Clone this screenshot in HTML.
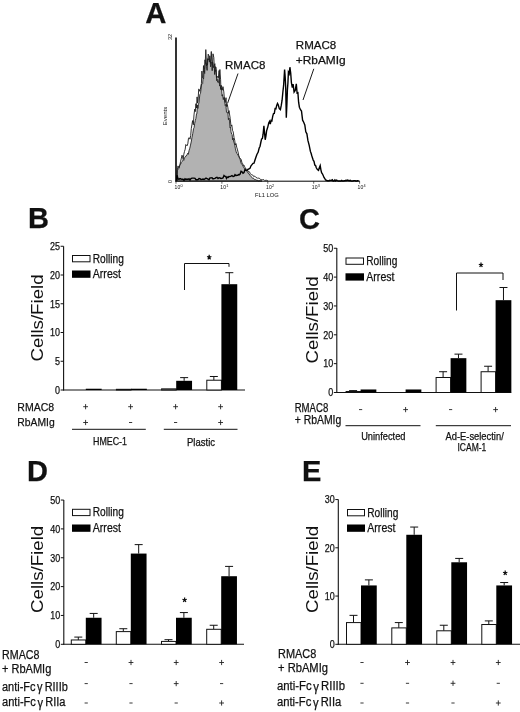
<!DOCTYPE html>
<html><head><meta charset="utf-8"><title>Figure</title>
<style>html,body{margin:0;padding:0;background:#fff;}svg{display:block;will-change:transform;}text{font-family:"Liberation Sans",sans-serif;fill:#111;stroke:#111;stroke-width:0.25px;}text.s{stroke:none;}</style>
</head><body>
<svg width="520" height="712" viewBox="0 0 520 712">
<rect x="0" y="0" width="520" height="712" fill="#fff"/>
<text x="145.3" y="22.7" font-size="29.3" text-anchor="start" font-weight="bold" >A</text>
<text x="28.1" y="228" font-size="29" text-anchor="start" font-weight="bold" >B</text>
<text x="298.9" y="229.3" font-size="29" text-anchor="start" font-weight="bold" >C</text>
<text x="27.1" y="481.1" font-size="29" text-anchor="start" font-weight="bold" >D</text>
<text x="302.1" y="481.1" font-size="29" text-anchor="start" font-weight="bold" >E</text>
<path d="M177.2,181.0 L177.4,170.1 L177.9,169.7 L178.4,169.3 L178.9,168.2 L179.5,165.6 L180.0,164.5 L180.7,164.0 L181.3,162.5 L181.9,161.8 L182.6,161.0 L183.2,159.6 L183.8,160.3 L184.4,158.0 L185.0,157.2 L185.7,156.1 L186.3,156.0 L187.0,154.8 L187.7,153.3 L188.3,154.3 L189.0,150.7 L189.8,148.2 L190.5,145.1 L191.2,142.0 L192.0,137.3 L192.8,133.3 L193.5,128.8 L194.1,127.7 L194.7,123.3 L195.3,120.6 L195.9,118.4 L196.5,113.8 L196.9,113.8 L197.4,105.0 L197.9,108.5 L198.5,104.3 L199.0,102.4 L199.8,94.7 L200.5,93.4 L201.0,89.2 L201.5,84.1 L202.1,84.3 L202.6,83.8 L203.1,77.9 L203.6,78.8 L204.1,71.2 L204.7,73.5 L205.2,63.4 L205.8,49.6 L206.6,65.7 L207.1,63.7 L207.5,64.9 L208.2,54.1 L208.9,56.2 L209.4,61.9 L209.8,55.8 L210.6,66.8 L211.4,62.5 L212.1,62.4 L212.9,62.3 L213.6,67.7 L214.4,65.0 L214.9,63.7 L215.3,71.5 L216.0,69.8 L216.7,80.7 L217.1,78.6 L217.6,82.2 L218.4,82.8 L219.2,77.7 L219.9,69.5 L220.6,79.8 L221.0,90.0 L221.5,88.1 L222.1,96.1 L222.6,94.6 L223.3,99.6 L224.0,97.3 L224.6,99.7 L225.2,105.6 L225.8,104.4 L226.5,112.3 L227.2,112.5 L227.9,112.7 L228.4,119.7 L229.0,118.0 L229.5,121.1 L230.0,127.7 L230.5,126.9 L231.0,131.8 L231.6,134.0 L232.1,134.4 L232.6,139.8 L233.2,138.0 L233.7,141.9 L234.2,142.9 L234.8,145.3 L235.3,148.2 L236.0,151.2 L236.7,153.4 L237.4,153.9 L238.1,155.3 L238.8,156.4 L239.5,158.0 L240.2,159.7 L240.9,162.8 L241.6,164.2 L242.3,164.6 L243.0,166.0 L243.7,167.6 L244.3,168.5 L245.0,169.1 L245.7,170.6 L246.3,170.7 L247.0,171.8 L247.7,171.9 L248.3,173.4 L249.0,173.6 L249.7,175.2 L250.3,175.5 L250.9,176.2 L251.6,177.1 L252.2,177.9 L252.9,178.5 L253.5,178.2 L254.2,179.3 L254.8,179.6 L255.5,179.5 L256.1,179.9 L256.7,180.2 L257.4,180.3 L258.0,180.6 L258.6,180.9 L259.1,180.6 L259.7,180.8 L260.3,180.7 L260.9,181.0 L261.4,180.8 L262.0,181.0 Z" fill="#b2b2b2" stroke="#222" stroke-width="0.9" stroke-linejoin="round"/>
<path d="M176.8,180.0 L177.2,170.5 L178.0,165.9 L178.6,167.5 L179.2,167.6 L179.8,165.5 L180.5,161.7 L181.2,158.9 L182.0,155.2 L182.6,157.0 L183.2,159.3 L183.8,154.3 L184.5,151.4 L185.2,149.2 L185.8,144.5 L186.4,145.1 L187.0,145.9 L187.8,143.9 L188.5,138.2 L189.2,137.6 L190.0,139.2 L190.7,135.5 L191.3,128.4 L191.9,124.8 L192.6,120.6 L193.3,124.8 L194.0,114.9 L194.7,109.2 L195.3,111.6 L195.9,103.7 L196.5,108.0 L197.1,96.9 L197.6,103.0 L198.1,100.0 L198.7,89.1 L199.2,89.4 L199.8,91.3 L200.3,89.3 L200.8,87.0 L201.4,83.5 L201.9,71.1 L202.4,77.7 L203.0,77.6 L203.5,65.6 L204.0,72.0 L204.5,69.4 L205.0,59.8 L205.6,63.8 L206.2,63.5 L206.6,66.6 L207.1,70.4 L207.6,58.7 L208.0,60.1 L208.8,58.6 L209.7,59.3 L210.5,63.4 L211.3,51.5 L212.2,70.7 L213.0,53.8 L213.8,57.5 L214.7,74.5 L215.1,69.5 L215.6,66.7 L216.1,67.5 L216.5,77.8 L217.3,76.3 L218.2,78.0 L218.6,76.0 L219.1,70.5 L219.6,85.9 L220.0,85.1 L220.8,88.9 L221.5,85.5 L222.2,90.2 L223.0,86.7 L223.8,91.9 L224.5,100.0 L225.2,102.5 L226.0,97.7 L226.6,106.6 L227.3,104.4 L227.9,107.8 L228.4,113.3 L229.0,110.6 L229.5,114.0 L230.2,118.3 L231.0,126.3 L231.8,124.9 L232.5,130.3 L233.2,131.9 L234.0,137.4 L234.7,140.2 L235.3,145.1 L236.0,143.6 L236.7,147.2 L237.3,149.1 L238.0,151.9 L238.7,155.2 L239.3,157.3 L240.0,158.3 L240.7,158.8 L241.3,160.0 L242.0,163.0 L242.7,163.6 L243.3,165.5 L244.0,165.1 L244.7,166.8 L245.3,168.1 L246.0,169.5 L246.6,168.8 L247.2,169.8 L247.8,170.8 L248.4,171.8 L249.0,171.3 L249.6,172.0 L250.2,173.7 L250.8,174.0 L251.4,174.7 L252.0,174.9 L252.6,175.1 L253.1,175.3 L253.7,176.5 L254.3,176.3 L254.9,176.3 L255.4,176.6 L256.0,177.5 L256.6,177.7 L257.1,177.6 L257.7,178.4 L258.3,178.1 L258.9,178.3 L259.4,178.3 L260.0,179.2 L260.6,179.4 L261.1,179.4 L261.7,179.6 L262.3,179.7 L262.9,179.7 L263.4,179.6 L264.0,179.8 L264.6,180.4 L265.1,180.1 L265.7,180.5 L266.3,180.2 L266.9,180.7 L267.4,180.6 L268.0,181.0" fill="none" stroke="#1a1a1a" stroke-width="0.9" stroke-linejoin="round"/>
<path d="M176.6,180.6 L177.0,175.2 L178.0,178.8 L179.0,179.3 L180.0,178.5 L181.0,179.0 L182.0,179.3 L183.0,179.2 L184.0,180.3 L185.0,178.8 L186.0,179.5 L187.0,179.1 L188.0,179.5 L189.0,178.8 L190.0,180.1 L191.0,178.5 L192.0,178.1 L193.0,178.1 L194.0,178.1 L195.0,178.3 L196.0,179.7 L197.0,179.7 L198.0,179.6 L199.0,178.5 L200.0,178.7 L201.0,179.5 L202.0,179.4 L203.0,179.1 L204.0,179.4 L205.0,179.0 L206.0,178.1 L207.0,178.6 L208.0,179.1 L209.0,179.7 L210.0,177.9 L211.0,177.9 L212.0,177.7 L213.0,179.0 L214.0,178.6 L215.0,178.4 L216.0,177.7 L217.0,177.4 L218.0,178.6 L219.0,177.7 L220.0,178.0 L221.0,178.4 L222.0,178.2 L223.0,177.9 L224.0,175.5 L225.0,176.4 L225.8,176.5 L226.5,178.4 L227.3,177.1 L228.2,177.5 L229.0,176.5 L230.0,176.6 L231.0,176.2 L232.0,175.6 L233.0,176.5 L234.0,176.3 L235.0,174.6 L236.0,175.7 L237.0,175.2 L237.8,175.3 L238.7,174.6 L239.5,174.8 L240.2,173.9 L241.0,171.3 L242.0,171.9 L243.0,173.3 L244.0,172.5 L245.0,169.6 L246.0,170.4 L247.0,170.4 L248.0,169.4 L249.0,168.8 L250.0,168.3 L251.0,165.8 L252.0,164.6 L253.0,163.4 L254.0,163.2 L255.0,160.0 L256.0,157.0 L257.0,154.2 L258.1,152.3 L259.2,148.0 L260.0,146.5 L260.8,142.5 L261.6,138.9 L262.4,138.6 L263.1,134.2 L263.9,125.9 L265.2,139.8 L265.9,136.1 L266.6,130.9 L267.7,127.3 L268.8,122.8 L269.6,121.4 L270.3,124.1 L271.1,120.4 L271.9,120.9 L272.7,116.3 L273.5,113.6 L274.3,113.4 L275.1,108.6 L275.9,108.8 L276.7,105.4 L277.5,103.5 L278.3,105.0 L279.3,108.6 L280.4,109.6 L281.3,105.2 L282.1,100.2 L282.9,91.7 L283.6,85.7 L284.6,69.5 L285.2,77.2 L285.7,87.2 L286.3,117.7 L286.9,104.2 L287.4,89.9 L287.9,83.3 L288.4,72.2 L289.2,73.8 L289.9,67.2 L290.7,73.1 L291.4,82.7 L292.3,87.7 L293.1,84.1 L294.1,92.2 L295.2,90.6 L296.3,83.9 L297.1,93.0 L297.9,92.7 L298.6,102.2 L299.4,107.2 L300.5,109.7 L301.5,111.1 L302.6,120.2 L303.7,122.2 L304.8,125.0 L305.8,131.8 L306.9,133.8 L307.9,140.4 L309.2,145.4 L310.4,151.4 L311.1,153.2 L311.8,155.8 L312.5,158.1 L313.2,160.1 L314.0,161.3 L314.8,165.1 L315.6,165.5 L316.3,167.8 L317.4,169.6 L318.5,170.3 L319.4,167.5 L320.2,165.6 L320.9,169.8 L321.6,172.7 L322.4,173.8 L323.2,175.5 L324.0,177.4 L324.8,178.5 L325.6,180.1 L326.4,180.1 L327.2,180.8 L328.0,180.7 L328.9,181.0 L329.7,180.2 L330.6,180.4 L331.4,180.4 L332.3,179.8 L333.1,181.0 L334.0,181.0 L334.9,179.9 L335.7,181.0 L336.6,180.1 L337.4,180.6 L338.3,181.0 L339.1,181.0 L340.0,181.0 L340.9,181.0 L341.7,180.4 L342.6,181.0 L343.4,181.0 L344.3,180.6 L345.1,180.7 L346.0,180.2 L346.9,180.4 L347.7,180.0 L348.6,180.5 L349.4,180.7 L350.3,180.4 L351.1,181.0 L352.0,181.0 L353.0,181.0 L353.9,180.6 L354.9,180.6 L355.8,181.0 L356.8,181.0 L357.7,180.7 L358.7,180.7" fill="none" stroke="#000" stroke-width="1.4" stroke-linejoin="miter"/>
<line x1="176" y1="37.5" x2="176" y2="181.7" stroke="#000" stroke-width="1.6"/>
<line x1="175.5" y1="181.2" x2="360" y2="181.2" stroke="#000" stroke-width="1.0"/>
<line x1="176.0" y1="181.2" x2="176.0" y2="183.7" stroke="#222" stroke-width="0.7"/>
<text x="174.6" y="189.3" font-size="5.8" text-anchor="start" font-weight="normal" textLength="5.6" lengthAdjust="spacingAndGlyphs" class="s">10</text>
<text x="180.4" y="187" font-size="3.8" text-anchor="start" font-weight="normal" class="s">0</text>
<line x1="221.9" y1="181.2" x2="221.9" y2="183.7" stroke="#222" stroke-width="0.7"/>
<text x="220.35" y="189.3" font-size="5.8" text-anchor="start" font-weight="normal" textLength="5.6" lengthAdjust="spacingAndGlyphs" class="s">10</text>
<text x="226.15" y="187" font-size="3.8" text-anchor="start" font-weight="normal" class="s">1</text>
<line x1="267.8" y1="181.2" x2="267.8" y2="183.7" stroke="#222" stroke-width="0.7"/>
<text x="266.1" y="189.3" font-size="5.8" text-anchor="start" font-weight="normal" textLength="5.6" lengthAdjust="spacingAndGlyphs" class="s">10</text>
<text x="271.90000000000003" y="187" font-size="3.8" text-anchor="start" font-weight="normal" class="s">2</text>
<line x1="313.7" y1="181.2" x2="313.7" y2="183.7" stroke="#222" stroke-width="0.7"/>
<text x="311.85" y="189.3" font-size="5.8" text-anchor="start" font-weight="normal" textLength="5.6" lengthAdjust="spacingAndGlyphs" class="s">10</text>
<text x="317.65000000000003" y="187" font-size="3.8" text-anchor="start" font-weight="normal" class="s">3</text>
<line x1="359.6" y1="181.2" x2="359.6" y2="183.7" stroke="#222" stroke-width="0.7"/>
<text x="357.6" y="189.3" font-size="5.8" text-anchor="start" font-weight="normal" textLength="5.6" lengthAdjust="spacingAndGlyphs" class="s">10</text>
<text x="363.40000000000003" y="187" font-size="3.8" text-anchor="start" font-weight="normal" class="s">4</text>
<text x="255" y="196.8" font-size="5.9" text-anchor="start" font-weight="normal" textLength="23.6" lengthAdjust="spacingAndGlyphs" class="s">FL1 LOG</text>
<text class="s" transform="translate(167.3,116) rotate(-90)" font-size="6" text-anchor="middle">Events</text>
<text class="s" transform="translate(172.3,37) rotate(-90)" font-size="5.6" text-anchor="middle">32</text>
<text class="s" transform="translate(172.3,181.5) rotate(-90)" font-size="5.6" text-anchor="middle">0</text>
<text x="225" y="68.8" font-size="11.7" text-anchor="start" font-weight="normal" textLength="40.4" lengthAdjust="spacingAndGlyphs" >RMAC8</text>
<line x1="238" y1="73.5" x2="227.5" y2="103.5" stroke="#000" stroke-width="0.9"/>
<text x="295.8" y="48.6" font-size="11.7" text-anchor="start" font-weight="normal" textLength="40.4" lengthAdjust="spacingAndGlyphs" >RMAC8</text>
<text x="295.8" y="64.4" font-size="11.7" text-anchor="start" font-weight="normal" textLength="49.9" lengthAdjust="spacingAndGlyphs" >+RbAMIg</text>
<line x1="313.8" y1="68.8" x2="303" y2="100" stroke="#000" stroke-width="0.9"/>
<line x1="63.6" y1="246.2" x2="63.6" y2="390.5" stroke="#111" stroke-width="1.1"/>
<line x1="63.1" y1="390" x2="245" y2="390" stroke="#111" stroke-width="1.1"/>
<line x1="60.6" y1="390.0" x2="63.6" y2="390.0" stroke="#111" stroke-width="1"/>
<text x="60.1" y="393.8" font-size="10.5" text-anchor="end" font-weight="normal" textLength="5.0" lengthAdjust="spacingAndGlyphs" >0</text>
<line x1="60.6" y1="361.25" x2="63.6" y2="361.25" stroke="#111" stroke-width="1"/>
<text x="60.1" y="365.05" font-size="10.5" text-anchor="end" font-weight="normal" textLength="5.0" lengthAdjust="spacingAndGlyphs" >5</text>
<line x1="60.6" y1="332.5" x2="63.6" y2="332.5" stroke="#111" stroke-width="1"/>
<text x="60.1" y="336.3" font-size="10.5" text-anchor="end" font-weight="normal" textLength="10.0" lengthAdjust="spacingAndGlyphs" >10</text>
<line x1="60.6" y1="303.75" x2="63.6" y2="303.75" stroke="#111" stroke-width="1"/>
<text x="60.1" y="307.55" font-size="10.5" text-anchor="end" font-weight="normal" textLength="10.0" lengthAdjust="spacingAndGlyphs" >15</text>
<line x1="60.6" y1="275.0" x2="63.6" y2="275.0" stroke="#111" stroke-width="1"/>
<text x="60.1" y="278.8" font-size="10.5" text-anchor="end" font-weight="normal" textLength="10.0" lengthAdjust="spacingAndGlyphs" >20</text>
<line x1="60.6" y1="246.25" x2="63.6" y2="246.25" stroke="#111" stroke-width="1"/>
<text x="60.1" y="250.05" font-size="10.5" text-anchor="end" font-weight="normal" textLength="10.0" lengthAdjust="spacingAndGlyphs" >25</text>
<rect x="85.8" y="388.735" width="15.85" height="1.265" fill="#000"/>
<rect x="116.4" y="389.31" width="14.6" height="0.69" fill="#fff" stroke="#111" stroke-width="1"/>
<rect x="131" y="388.735" width="15.85" height="1.265" fill="#000"/>
<rect x="161.6" y="388.85" width="14.6" height="1.1500000000000001" fill="#fff" stroke="#111" stroke-width="1"/>
<line x1="184.125" y1="377.6375" x2="184.125" y2="380.8" stroke="#111" stroke-width="1"/>
<line x1="180.125" y1="377.6375" x2="188.125" y2="377.6375" stroke="#111" stroke-width="1"/>
<rect x="176.2" y="380.8" width="15.85" height="9.200000000000001" fill="#000"/>
<line x1="213.85000000000002" y1="376.4875" x2="213.85000000000002" y2="380.225" stroke="#111" stroke-width="1"/>
<line x1="209.85000000000002" y1="376.4875" x2="217.85000000000002" y2="376.4875" stroke="#111" stroke-width="1"/>
<rect x="206.8" y="380.225" width="14.6" height="9.775" fill="#fff" stroke="#111" stroke-width="1"/>
<line x1="229.32500000000002" y1="272.7" x2="229.32500000000002" y2="284.2" stroke="#111" stroke-width="1"/>
<line x1="225.32500000000002" y1="272.7" x2="233.32500000000002" y2="272.7" stroke="#111" stroke-width="1"/>
<rect x="221.4" y="284.2" width="15.85" height="105.8" fill="#000"/>
<rect x="72.5" y="255.5" width="17.5" height="6.3" fill="#fff" stroke="#111" stroke-width="1"/>
<rect x="72.0" y="270.5" width="18.5" height="7.3" fill="#000"/>
<text x="92.8" y="262.6" font-size="12.2" text-anchor="start" font-weight="normal" textLength="31" lengthAdjust="spacingAndGlyphs" >Rolling</text>
<text x="92.8" y="278.1" font-size="12.2" text-anchor="start" font-weight="normal" textLength="28.2" lengthAdjust="spacingAndGlyphs" >Arrest</text>
<text class="s" transform="translate(43.4,318) rotate(-90)" font-size="15.8" text-anchor="middle" textLength="87.2" lengthAdjust="spacingAndGlyphs">Cells/Field</text>
<polyline points="184.5,290 184.5,263.5 229,263.5 229,266.8" fill="none" stroke="#111" stroke-width="1"/>
<path d="M209.20,257.30 L209.20,254.80 M209.20,257.30 L211.39,256.53 M209.20,257.30 L210.55,259.32 M209.20,257.30 L207.85,259.32 M209.20,257.30 L207.01,256.53" stroke="#111" stroke-width="1.25" fill="none"/>
<circle cx="209.2" cy="257.3" r="1.1" fill="#111"/>
<text x="17.3" y="410.6" font-size="11.8" text-anchor="start" font-weight="normal" textLength="36.8" lengthAdjust="spacingAndGlyphs" >RMAC8</text>
<text x="17.3" y="425.5" font-size="11.8" text-anchor="start" font-weight="normal" textLength="37.4" lengthAdjust="spacingAndGlyphs" >RbAMIg</text>
<line x1="83.19999999999999" y1="406.7" x2="88.0" y2="406.7" stroke="#222" stroke-width="0.9"/>
<line x1="85.6" y1="404.09999999999997" x2="85.6" y2="409.3" stroke="#222" stroke-width="0.9"/>
<line x1="83.19999999999999" y1="422.5" x2="88.0" y2="422.5" stroke="#222" stroke-width="0.9"/>
<line x1="85.6" y1="419.9" x2="85.6" y2="425.1" stroke="#222" stroke-width="0.9"/>
<line x1="128.2" y1="406.7" x2="133.0" y2="406.7" stroke="#222" stroke-width="0.9"/>
<line x1="130.6" y1="404.09999999999997" x2="130.6" y2="409.3" stroke="#222" stroke-width="0.9"/>
<line x1="129.0" y1="422.5" x2="132.2" y2="422.5" stroke="#222" stroke-width="0.9"/>
<line x1="173.2" y1="406.7" x2="178.0" y2="406.7" stroke="#222" stroke-width="0.9"/>
<line x1="175.6" y1="404.09999999999997" x2="175.6" y2="409.3" stroke="#222" stroke-width="0.9"/>
<line x1="174.0" y1="422.5" x2="177.2" y2="422.5" stroke="#222" stroke-width="0.9"/>
<line x1="218.2" y1="406.7" x2="223.0" y2="406.7" stroke="#222" stroke-width="0.9"/>
<line x1="220.6" y1="404.09999999999997" x2="220.6" y2="409.3" stroke="#222" stroke-width="0.9"/>
<line x1="218.2" y1="422.5" x2="223.0" y2="422.5" stroke="#222" stroke-width="0.9"/>
<line x1="220.6" y1="419.9" x2="220.6" y2="425.1" stroke="#222" stroke-width="0.9"/>
<line x1="72" y1="429.3" x2="145.8" y2="429.3" stroke="#111" stroke-width="1"/>
<line x1="163.8" y1="429.3" x2="237.5" y2="429.3" stroke="#111" stroke-width="1"/>
<text x="110" y="445" font-size="10.5" text-anchor="middle" font-weight="normal" textLength="34" lengthAdjust="spacingAndGlyphs" >HMEC-1</text>
<text x="201" y="445.7" font-size="10.5" text-anchor="middle" font-weight="normal" textLength="28" lengthAdjust="spacingAndGlyphs" >Plastic</text>
<line x1="336.8" y1="248" x2="336.8" y2="393.0" stroke="#111" stroke-width="1.1"/>
<line x1="336.3" y1="392.5" x2="511.3" y2="392.5" stroke="#111" stroke-width="1.1"/>
<line x1="333.8" y1="392.5" x2="336.8" y2="392.5" stroke="#111" stroke-width="1"/>
<text x="333.3" y="396.3" font-size="10.5" text-anchor="end" font-weight="normal" textLength="5.0" lengthAdjust="spacingAndGlyphs" >0</text>
<line x1="333.8" y1="363.65" x2="336.8" y2="363.65" stroke="#111" stroke-width="1"/>
<text x="333.3" y="367.45" font-size="10.5" text-anchor="end" font-weight="normal" textLength="10.0" lengthAdjust="spacingAndGlyphs" >10</text>
<line x1="333.8" y1="334.8" x2="336.8" y2="334.8" stroke="#111" stroke-width="1"/>
<text x="333.3" y="338.6" font-size="10.5" text-anchor="end" font-weight="normal" textLength="10.0" lengthAdjust="spacingAndGlyphs" >20</text>
<line x1="333.8" y1="305.95" x2="336.8" y2="305.95" stroke="#111" stroke-width="1"/>
<text x="333.3" y="309.75" font-size="10.5" text-anchor="end" font-weight="normal" textLength="10.0" lengthAdjust="spacingAndGlyphs" >30</text>
<line x1="333.8" y1="277.1" x2="336.8" y2="277.1" stroke="#111" stroke-width="1"/>
<text x="333.3" y="280.90000000000003" font-size="10.5" text-anchor="end" font-weight="normal" textLength="10.0" lengthAdjust="spacingAndGlyphs" >40</text>
<line x1="333.8" y1="248.25" x2="336.8" y2="248.25" stroke="#111" stroke-width="1"/>
<text x="333.3" y="252.05" font-size="10.5" text-anchor="end" font-weight="normal" textLength="10.0" lengthAdjust="spacingAndGlyphs" >50</text>
<line x1="353.1" y1="390.62475" x2="353.1" y2="391.49025" stroke="#111" stroke-width="1"/>
<line x1="349.1" y1="390.62475" x2="357.1" y2="390.62475" stroke="#111" stroke-width="1"/>
<rect x="346.1" y="391.49025" width="14.5" height="1.00975" fill="#fff" stroke="#111" stroke-width="1"/>
<rect x="360.6" y="389.47075" width="15.75" height="3.0292499999999998" fill="#000"/>
<rect x="405.6" y="389.47075" width="15.75" height="3.0292499999999998" fill="#000"/>
<line x1="443.1" y1="371.728" x2="443.1" y2="377.498" stroke="#111" stroke-width="1"/>
<line x1="439.1" y1="371.728" x2="447.1" y2="371.728" stroke="#111" stroke-width="1"/>
<rect x="436.1" y="377.498" width="14.5" height="15.001999999999999" fill="#fff" stroke="#111" stroke-width="1"/>
<line x1="458.475" y1="354.1295" x2="458.475" y2="358.1685" stroke="#111" stroke-width="1"/>
<line x1="454.475" y1="354.1295" x2="462.475" y2="354.1295" stroke="#111" stroke-width="1"/>
<rect x="450.6" y="358.1685" width="15.75" height="34.3315" fill="#000"/>
<line x1="488.1" y1="366.2465" x2="488.1" y2="371.728" stroke="#111" stroke-width="1"/>
<line x1="484.1" y1="366.2465" x2="492.1" y2="366.2465" stroke="#111" stroke-width="1"/>
<rect x="481.1" y="371.728" width="14.5" height="20.772" fill="#fff" stroke="#111" stroke-width="1"/>
<line x1="503.475" y1="287.486" x2="503.475" y2="300.18" stroke="#111" stroke-width="1"/>
<line x1="499.475" y1="287.486" x2="507.475" y2="287.486" stroke="#111" stroke-width="1"/>
<rect x="495.6" y="300.18" width="15.75" height="92.32" fill="#000"/>
<rect x="346" y="258" width="17.5" height="6.3" fill="#fff" stroke="#111" stroke-width="1"/>
<rect x="345.5" y="273.3" width="18.5" height="7.3" fill="#000"/>
<text x="366.3" y="265.1" font-size="12.2" text-anchor="start" font-weight="normal" textLength="31" lengthAdjust="spacingAndGlyphs" >Rolling</text>
<text x="366.3" y="280.90000000000003" font-size="12.2" text-anchor="start" font-weight="normal" textLength="28.2" lengthAdjust="spacingAndGlyphs" >Arrest</text>
<text class="s" transform="translate(318.3,320) rotate(-90)" font-size="15.8" text-anchor="middle" textLength="87.2" lengthAdjust="spacingAndGlyphs">Cells/Field</text>
<polyline points="456.5,310.5 456.5,273 503,273 503,280" fill="none" stroke="#111" stroke-width="1"/>
<path d="M481.00,265.00 L481.00,262.50 M481.00,265.00 L483.19,264.23 M481.00,265.00 L482.35,267.02 M481.00,265.00 L479.65,267.02 M481.00,265.00 L478.81,264.23" stroke="#111" stroke-width="1.25" fill="none"/>
<circle cx="481" cy="265" r="1.1" fill="#111"/>
<text x="294.7" y="412" font-size="12" text-anchor="start" font-weight="normal" textLength="33.6" lengthAdjust="spacingAndGlyphs" >RMAC8</text>
<text x="294.7" y="424.3" font-size="12" text-anchor="start" font-weight="normal" textLength="46.6" lengthAdjust="spacingAndGlyphs" >+ RbAMIg</text>
<line x1="359.0" y1="409.6" x2="362.20000000000005" y2="409.6" stroke="#222" stroke-width="0.9"/>
<line x1="403.20000000000005" y1="409.6" x2="408.0" y2="409.6" stroke="#222" stroke-width="0.9"/>
<line x1="405.6" y1="407.0" x2="405.6" y2="412.20000000000005" stroke="#222" stroke-width="0.9"/>
<line x1="449.0" y1="409.6" x2="452.20000000000005" y2="409.6" stroke="#222" stroke-width="0.9"/>
<line x1="493.20000000000005" y1="409.6" x2="498.0" y2="409.6" stroke="#222" stroke-width="0.9"/>
<line x1="495.6" y1="407.0" x2="495.6" y2="412.20000000000005" stroke="#222" stroke-width="0.9"/>
<line x1="345.5" y1="425.7" x2="420.5" y2="425.7" stroke="#111" stroke-width="1"/>
<line x1="435.8" y1="425.7" x2="511" y2="425.7" stroke="#111" stroke-width="1"/>
<text x="383.3" y="439.5" font-size="10.5" text-anchor="middle" font-weight="normal" textLength="44.3" lengthAdjust="spacingAndGlyphs" >Uninfected</text>
<text x="474.6" y="440" font-size="10.5" text-anchor="middle" font-weight="normal" textLength="58.3" lengthAdjust="spacingAndGlyphs" >Ad-E-selectin/</text>
<text x="471.9" y="450.8" font-size="10.5" text-anchor="middle" font-weight="normal" textLength="28.8" lengthAdjust="spacingAndGlyphs" >ICAM-1</text>
<line x1="63.8" y1="500" x2="63.8" y2="644.8" stroke="#111" stroke-width="1.1"/>
<line x1="63.3" y1="644.3" x2="244" y2="644.3" stroke="#111" stroke-width="1.1"/>
<line x1="60.8" y1="644.3" x2="63.8" y2="644.3" stroke="#111" stroke-width="1"/>
<text x="60.3" y="648.0999999999999" font-size="10.5" text-anchor="end" font-weight="normal" textLength="5.0" lengthAdjust="spacingAndGlyphs" >0</text>
<line x1="60.8" y1="615.4499999999999" x2="63.8" y2="615.4499999999999" stroke="#111" stroke-width="1"/>
<text x="60.3" y="619.2499999999999" font-size="10.5" text-anchor="end" font-weight="normal" textLength="10.0" lengthAdjust="spacingAndGlyphs" >10</text>
<line x1="60.8" y1="586.5999999999999" x2="63.8" y2="586.5999999999999" stroke="#111" stroke-width="1"/>
<text x="60.3" y="590.3999999999999" font-size="10.5" text-anchor="end" font-weight="normal" textLength="10.0" lengthAdjust="spacingAndGlyphs" >20</text>
<line x1="60.8" y1="557.75" x2="63.8" y2="557.75" stroke="#111" stroke-width="1"/>
<text x="60.3" y="561.55" font-size="10.5" text-anchor="end" font-weight="normal" textLength="10.0" lengthAdjust="spacingAndGlyphs" >30</text>
<line x1="60.8" y1="528.9" x2="63.8" y2="528.9" stroke="#111" stroke-width="1"/>
<text x="60.3" y="532.6999999999999" font-size="10.5" text-anchor="end" font-weight="normal" textLength="10.0" lengthAdjust="spacingAndGlyphs" >40</text>
<line x1="60.8" y1="500.04999999999995" x2="63.8" y2="500.04999999999995" stroke="#111" stroke-width="1"/>
<text x="60.3" y="503.84999999999997" font-size="10.5" text-anchor="end" font-weight="normal" textLength="10.0" lengthAdjust="spacingAndGlyphs" >50</text>
<line x1="78.3" y1="637.0875" x2="78.3" y2="639.9725" stroke="#111" stroke-width="1"/>
<line x1="74.3" y1="637.0875" x2="82.3" y2="637.0875" stroke="#111" stroke-width="1"/>
<rect x="71.3" y="639.9725" width="14.5" height="4.3275" fill="#fff" stroke="#111" stroke-width="1"/>
<line x1="93.675" y1="613.4304999999999" x2="93.675" y2="617.7579999999999" stroke="#111" stroke-width="1"/>
<line x1="89.675" y1="613.4304999999999" x2="97.675" y2="613.4304999999999" stroke="#111" stroke-width="1"/>
<rect x="85.8" y="617.7579999999999" width="15.75" height="26.541999999999994" fill="#000"/>
<line x1="123.30000000000001" y1="628.721" x2="123.30000000000001" y2="631.606" stroke="#111" stroke-width="1"/>
<line x1="119.30000000000001" y1="628.721" x2="127.30000000000001" y2="628.721" stroke="#111" stroke-width="1"/>
<rect x="116.30000000000001" y="631.606" width="14.5" height="12.694" fill="#fff" stroke="#111" stroke-width="1"/>
<line x1="138.675" y1="544.62325" x2="138.675" y2="553.56675" stroke="#111" stroke-width="1"/>
<line x1="134.675" y1="544.62325" x2="142.675" y2="544.62325" stroke="#111" stroke-width="1"/>
<rect x="130.8" y="553.56675" width="15.75" height="90.73325" fill="#000"/>
<line x1="168.5" y1="639.684" x2="168.5" y2="641.415" stroke="#111" stroke-width="1"/>
<line x1="164.5" y1="639.684" x2="172.5" y2="639.684" stroke="#111" stroke-width="1"/>
<rect x="161.5" y="641.415" width="14.5" height="2.885" fill="#fff" stroke="#111" stroke-width="1"/>
<line x1="183.875" y1="612.5649999999999" x2="183.875" y2="617.7579999999999" stroke="#111" stroke-width="1"/>
<line x1="179.875" y1="612.5649999999999" x2="187.875" y2="612.5649999999999" stroke="#111" stroke-width="1"/>
<rect x="176" y="617.7579999999999" width="15.75" height="26.541999999999994" fill="#000"/>
<line x1="213.7" y1="625.259" x2="213.7" y2="629.298" stroke="#111" stroke-width="1"/>
<line x1="209.7" y1="625.259" x2="217.7" y2="625.259" stroke="#111" stroke-width="1"/>
<rect x="206.7" y="629.298" width="14.5" height="15.001999999999999" fill="#fff" stroke="#111" stroke-width="1"/>
<line x1="229.075" y1="566.405" x2="229.075" y2="576.2139999999999" stroke="#111" stroke-width="1"/>
<line x1="225.075" y1="566.405" x2="233.075" y2="566.405" stroke="#111" stroke-width="1"/>
<rect x="221.2" y="576.2139999999999" width="15.75" height="68.086" fill="#000"/>
<rect x="72.5" y="509.3" width="17.5" height="6.3" fill="#fff" stroke="#111" stroke-width="1"/>
<rect x="72.0" y="524.5" width="18.5" height="7.3" fill="#000"/>
<text x="92.8" y="516.4" font-size="12.2" text-anchor="start" font-weight="normal" textLength="31" lengthAdjust="spacingAndGlyphs" >Rolling</text>
<text x="92.8" y="532.0999999999999" font-size="12.2" text-anchor="start" font-weight="normal" textLength="28.2" lengthAdjust="spacingAndGlyphs" >Arrest</text>
<text class="s" transform="translate(43.4,569.4) rotate(-90)" font-size="15.8" text-anchor="middle" textLength="87.2" lengthAdjust="spacingAndGlyphs">Cells/Field</text>
<path d="M184.60,600.00 L184.60,597.50 M184.60,600.00 L186.79,599.23 M184.60,600.00 L185.95,602.02 M184.60,600.00 L183.25,602.02 M184.60,600.00 L182.41,599.23" stroke="#111" stroke-width="1.25" fill="none"/>
<circle cx="184.6" cy="600" r="1.1" fill="#111"/>
<text x="2" y="658.8" font-size="12.5" text-anchor="start" font-weight="normal" textLength="37.5" lengthAdjust="spacingAndGlyphs" >RMAC8</text>
<text x="2" y="672.6" font-size="12.5" text-anchor="start" font-weight="normal" textLength="49.3" lengthAdjust="spacingAndGlyphs" >+ RbAMIg</text>
<text x="2" y="690.5" font-size="12.5" textLength="65.8" lengthAdjust="spacingAndGlyphs">anti-Fc<tspan font-size="12.5" dx="1.8" dy="0.6">γ</tspan><tspan dx="2.4" dy="-0.6">RIIIb</tspan></text>
<text x="2" y="706.3" font-size="12.5" textLength="63.5" lengthAdjust="spacingAndGlyphs">anti-Fc<tspan font-size="12.5" dx="1.8" dy="0.6">γ</tspan><tspan dx="2.4" dy="-0.6">RIIa</tspan></text>
<line x1="84.60000000000001" y1="662.5" x2="87.8" y2="662.5" stroke="#222" stroke-width="0.9"/>
<line x1="84.60000000000001" y1="683.6" x2="87.8" y2="683.6" stroke="#222" stroke-width="0.9"/>
<line x1="84.60000000000001" y1="703" x2="87.8" y2="703" stroke="#222" stroke-width="0.9"/>
<line x1="128.6" y1="662.5" x2="133.4" y2="662.5" stroke="#222" stroke-width="0.9"/>
<line x1="131" y1="659.9" x2="131" y2="665.1" stroke="#222" stroke-width="0.9"/>
<line x1="129.4" y1="683.6" x2="132.6" y2="683.6" stroke="#222" stroke-width="0.9"/>
<line x1="129.4" y1="703" x2="132.6" y2="703" stroke="#222" stroke-width="0.9"/>
<line x1="173.79999999999998" y1="662.5" x2="178.6" y2="662.5" stroke="#222" stroke-width="0.9"/>
<line x1="176.2" y1="659.9" x2="176.2" y2="665.1" stroke="#222" stroke-width="0.9"/>
<line x1="173.79999999999998" y1="683.6" x2="178.6" y2="683.6" stroke="#222" stroke-width="0.9"/>
<line x1="176.2" y1="681.0" x2="176.2" y2="686.2" stroke="#222" stroke-width="0.9"/>
<line x1="174.6" y1="703" x2="177.79999999999998" y2="703" stroke="#222" stroke-width="0.9"/>
<line x1="219.2" y1="662.5" x2="224.0" y2="662.5" stroke="#222" stroke-width="0.9"/>
<line x1="221.6" y1="659.9" x2="221.6" y2="665.1" stroke="#222" stroke-width="0.9"/>
<line x1="220.0" y1="683.6" x2="223.2" y2="683.6" stroke="#222" stroke-width="0.9"/>
<line x1="219.2" y1="703" x2="224.0" y2="703" stroke="#222" stroke-width="0.9"/>
<line x1="221.6" y1="700.4" x2="221.6" y2="705.6" stroke="#222" stroke-width="0.9"/>
<line x1="338.3" y1="499.5" x2="338.3" y2="644.8" stroke="#111" stroke-width="1.1"/>
<line x1="337.8" y1="644.3" x2="520" y2="644.3" stroke="#111" stroke-width="1.1"/>
<line x1="335.3" y1="644.3" x2="338.3" y2="644.3" stroke="#111" stroke-width="1"/>
<text x="334.8" y="648.0999999999999" font-size="10.5" text-anchor="end" font-weight="normal" textLength="5.0" lengthAdjust="spacingAndGlyphs" >0</text>
<line x1="335.3" y1="596.05" x2="338.3" y2="596.05" stroke="#111" stroke-width="1"/>
<text x="334.8" y="599.8499999999999" font-size="10.5" text-anchor="end" font-weight="normal" textLength="10.0" lengthAdjust="spacingAndGlyphs" >10</text>
<line x1="335.3" y1="547.8" x2="338.3" y2="547.8" stroke="#111" stroke-width="1"/>
<text x="334.8" y="551.5999999999999" font-size="10.5" text-anchor="end" font-weight="normal" textLength="10.0" lengthAdjust="spacingAndGlyphs" >20</text>
<line x1="335.3" y1="499.54999999999995" x2="338.3" y2="499.54999999999995" stroke="#111" stroke-width="1"/>
<text x="334.8" y="503.34999999999997" font-size="10.5" text-anchor="end" font-weight="normal" textLength="10.0" lengthAdjust="spacingAndGlyphs" >30</text>
<line x1="353.5" y1="615.3499999999999" x2="353.5" y2="622.5875" stroke="#111" stroke-width="1"/>
<line x1="349.5" y1="615.3499999999999" x2="357.5" y2="615.3499999999999" stroke="#111" stroke-width="1"/>
<rect x="346.5" y="622.5875" width="14.5" height="21.712500000000002" fill="#fff" stroke="#111" stroke-width="1"/>
<line x1="368.875" y1="579.8862499999999" x2="368.875" y2="585.435" stroke="#111" stroke-width="1"/>
<line x1="364.875" y1="579.8862499999999" x2="372.875" y2="579.8862499999999" stroke="#111" stroke-width="1"/>
<rect x="361.0" y="585.435" width="15.75" height="58.865" fill="#000"/>
<line x1="398.8" y1="622.5875" x2="398.8" y2="627.895" stroke="#111" stroke-width="1"/>
<line x1="394.8" y1="622.5875" x2="402.8" y2="622.5875" stroke="#111" stroke-width="1"/>
<rect x="391.8" y="627.895" width="14.5" height="16.405" fill="#fff" stroke="#111" stroke-width="1"/>
<line x1="414.175" y1="527.0525" x2="414.175" y2="534.7724999999999" stroke="#111" stroke-width="1"/>
<line x1="410.175" y1="527.0525" x2="418.175" y2="527.0525" stroke="#111" stroke-width="1"/>
<rect x="406.3" y="534.7724999999999" width="15.75" height="109.5275" fill="#000"/>
<line x1="443.8" y1="625.2412499999999" x2="443.8" y2="630.79" stroke="#111" stroke-width="1"/>
<line x1="439.8" y1="625.2412499999999" x2="447.8" y2="625.2412499999999" stroke="#111" stroke-width="1"/>
<rect x="436.8" y="630.79" width="14.5" height="13.51" fill="#fff" stroke="#111" stroke-width="1"/>
<line x1="459.175" y1="558.415" x2="459.175" y2="562.275" stroke="#111" stroke-width="1"/>
<line x1="455.175" y1="558.415" x2="463.175" y2="558.415" stroke="#111" stroke-width="1"/>
<rect x="451.3" y="562.275" width="15.75" height="82.025" fill="#000"/>
<line x1="488.8" y1="620.89875" x2="488.8" y2="624.5174999999999" stroke="#111" stroke-width="1"/>
<line x1="484.8" y1="620.89875" x2="492.8" y2="620.89875" stroke="#111" stroke-width="1"/>
<rect x="481.8" y="624.5174999999999" width="14.5" height="19.7825" fill="#fff" stroke="#111" stroke-width="1"/>
<line x1="504.175" y1="582.54" x2="504.175" y2="585.435" stroke="#111" stroke-width="1"/>
<line x1="500.175" y1="582.54" x2="508.175" y2="582.54" stroke="#111" stroke-width="1"/>
<rect x="496.3" y="585.435" width="15.75" height="58.865" fill="#000"/>
<rect x="347.5" y="509.5" width="17" height="6.3" fill="#fff" stroke="#111" stroke-width="1"/>
<rect x="347.0" y="524.5" width="18" height="7.3" fill="#000"/>
<text x="367.3" y="516.5999999999999" font-size="12.2" text-anchor="start" font-weight="normal" textLength="31" lengthAdjust="spacingAndGlyphs" >Rolling</text>
<text x="367.3" y="532.0999999999999" font-size="12.2" text-anchor="start" font-weight="normal" textLength="28.2" lengthAdjust="spacingAndGlyphs" >Arrest</text>
<text class="s" transform="translate(318.3,569.4) rotate(-90)" font-size="15.8" text-anchor="middle" textLength="87.2" lengthAdjust="spacingAndGlyphs">Cells/Field</text>
<path d="M505.20,573.00 L505.20,570.50 M505.20,573.00 L507.39,572.23 M505.20,573.00 L506.55,575.02 M505.20,573.00 L503.85,575.02 M505.20,573.00 L503.01,572.23" stroke="#111" stroke-width="1.25" fill="none"/>
<circle cx="505.2" cy="573" r="1.1" fill="#111"/>
<text x="278" y="658" font-size="12.5" text-anchor="start" font-weight="normal" textLength="38.3" lengthAdjust="spacingAndGlyphs" >RMAC8</text>
<text x="278" y="671.9" font-size="12.5" text-anchor="start" font-weight="normal" textLength="50" lengthAdjust="spacingAndGlyphs" >+ RbAMIg</text>
<text x="277" y="690" font-size="12.5" textLength="68" lengthAdjust="spacingAndGlyphs">anti-Fc<tspan font-size="12.5" dx="1.8" dy="0.6">γ</tspan><tspan dx="2.4" dy="-0.6">RIIIb</tspan></text>
<text x="277" y="706.3" font-size="12.5" textLength="64.3" lengthAdjust="spacingAndGlyphs">anti-Fc<tspan font-size="12.5" dx="1.8" dy="0.6">γ</tspan><tspan dx="2.4" dy="-0.6">RIIa</tspan></text>
<line x1="360.4" y1="662.5" x2="363.6" y2="662.5" stroke="#222" stroke-width="0.9"/>
<line x1="360.4" y1="683.3" x2="363.6" y2="683.3" stroke="#222" stroke-width="0.9"/>
<line x1="360.4" y1="703" x2="363.6" y2="703" stroke="#222" stroke-width="0.9"/>
<line x1="405.1" y1="662.5" x2="409.9" y2="662.5" stroke="#222" stroke-width="0.9"/>
<line x1="407.5" y1="659.9" x2="407.5" y2="665.1" stroke="#222" stroke-width="0.9"/>
<line x1="405.9" y1="683.3" x2="409.1" y2="683.3" stroke="#222" stroke-width="0.9"/>
<line x1="405.9" y1="703" x2="409.1" y2="703" stroke="#222" stroke-width="0.9"/>
<line x1="450.6" y1="662.5" x2="455.4" y2="662.5" stroke="#222" stroke-width="0.9"/>
<line x1="453" y1="659.9" x2="453" y2="665.1" stroke="#222" stroke-width="0.9"/>
<line x1="450.6" y1="683.3" x2="455.4" y2="683.3" stroke="#222" stroke-width="0.9"/>
<line x1="453" y1="680.6999999999999" x2="453" y2="685.9" stroke="#222" stroke-width="0.9"/>
<line x1="451.4" y1="703" x2="454.6" y2="703" stroke="#222" stroke-width="0.9"/>
<line x1="495.90000000000003" y1="662.5" x2="500.7" y2="662.5" stroke="#222" stroke-width="0.9"/>
<line x1="498.3" y1="659.9" x2="498.3" y2="665.1" stroke="#222" stroke-width="0.9"/>
<line x1="496.7" y1="683.3" x2="499.90000000000003" y2="683.3" stroke="#222" stroke-width="0.9"/>
<line x1="495.90000000000003" y1="703" x2="500.7" y2="703" stroke="#222" stroke-width="0.9"/>
<line x1="498.3" y1="700.4" x2="498.3" y2="705.6" stroke="#222" stroke-width="0.9"/>
</svg></body></html>
